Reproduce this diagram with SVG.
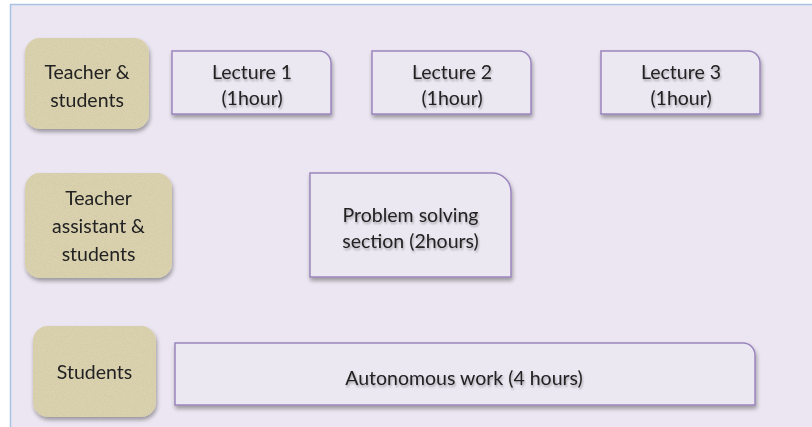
<svg xmlns="http://www.w3.org/2000/svg" width="812" height="427" viewBox="0 0 812 427">
<defs>
<filter id="sh" x="-10%" y="-10%" width="130%" height="140%">
<feGaussianBlur in="SourceAlpha" stdDeviation="2"/>
<feOffset dx="1" dy="3" result="b"/>
<feComponentTransfer><feFuncA type="linear" slope="0.35"/></feComponentTransfer>
<feMerge><feMergeNode/><feMergeNode in="SourceGraphic"/></feMerge>
</filter>
<filter id="tex" x="0" y="0" width="100%" height="100%">
<feTurbulence type="fractalNoise" baseFrequency="0.9" numOctaves="2" seed="3" result="n"/>
<feColorMatrix in="n" type="matrix" values="0 0 0 0 0.6  0 0 0 0 0.55  0 0 0 0 0.4  0 0 0 1.6 -0.7" result="nn"/>
<feComposite in="nn" in2="SourceGraphic" operator="in" result="c"/>
<feMerge><feMergeNode in="SourceGraphic"/><feMergeNode in="c"/></feMerge>
</filter>
<filter id="tsh" x="-5%" y="-20%" width="110%" height="150%">
<feGaussianBlur in="SourceAlpha" stdDeviation="1"/>
<feOffset dx="1" dy="1.5"/>
<feComponentTransfer><feFuncA type="linear" slope="0.3"/></feComponentTransfer>
<feMerge><feMergeNode/><feMergeNode in="SourceGraphic"/></feMerge>
</filter>
</defs>
<style>
.role{fill:#dad1ad;filter:url(#tex)}
.act{fill:#ece8f2;stroke:#9a84bd;stroke-width:1.5}
text{font-family:Lato,"Open Sans","Liberation Sans",sans-serif;font-size:19.5px;fill:#222;text-anchor:middle}
.t{filter:url(#tsh)}
</style>
<rect width="812" height="427" fill="#ffffff"/>
<rect x="10.5" y="4.5" width="820" height="440" fill="#ebe6f1"/>
<path d="M10.5,440 V4.5 H830" fill="none" stroke="#a9c3e3" stroke-width="1.5"/>

<g id="role-teacher-students" filter="url(#sh)">
<rect class="role" x="25" y="38" width="124" height="91" rx="15"/>
<text x="87" y="79">Teacher &amp;</text>
<text x="87" y="107">students</text>
</g>
<g id="role-ta-students" filter="url(#sh)">
<rect class="role" x="25" y="173" width="147" height="105" rx="15"/>
<text x="98.5" y="205">Teacher</text>
<text x="98.5" y="233">assistant &amp;</text>
<text x="98.5" y="261">students</text>
</g>
<g id="role-students" filter="url(#sh)">
<rect class="role" x="33" y="326" width="123" height="91" rx="15"/>
<text x="94.5" y="379">Students</text>
</g>

<g id="lecture1" filter="url(#sh)">
<path class="act" d="M172,51 H319 A12,12 0 0 1 331,63 V114 H172 Z"/>
<text class="t" x="252" y="79">Lecture 1</text>
<text class="t" x="252" y="105">(1hour)</text>
</g>
<g id="lecture2" filter="url(#sh)">
<path class="act" d="M372,51 H519 A12,12 0 0 1 531,63 V114 H372 Z"/>
<text class="t" x="452" y="79">Lecture 2</text>
<text class="t" x="452" y="105">(1hour)</text>
</g>
<g id="lecture3" filter="url(#sh)">
<path class="act" d="M601,51 H748 A12,12 0 0 1 760,63 V114 H601 Z"/>
<text class="t" x="681" y="79">Lecture 3</text>
<text class="t" x="681" y="105">(1hour)</text>
</g>
<g id="problem-solving" filter="url(#sh)">
<path class="act" d="M310,173 H492 A19,19 0 0 1 511,192 V277 H310 Z"/>
<text class="t" x="410.5" y="222">Problem solving</text>
<text class="t" x="410.5" y="248">section (2hours)</text>
</g>
<g id="autonomous" filter="url(#sh)">
<path class="act" d="M175,343 H743 A12,12 0 0 1 755,355 V405 H175 Z"/>
<text class="t" x="464" y="385">Autonomous work (4 hours)</text>
</g>
<g id="connectors"/>
</svg>
